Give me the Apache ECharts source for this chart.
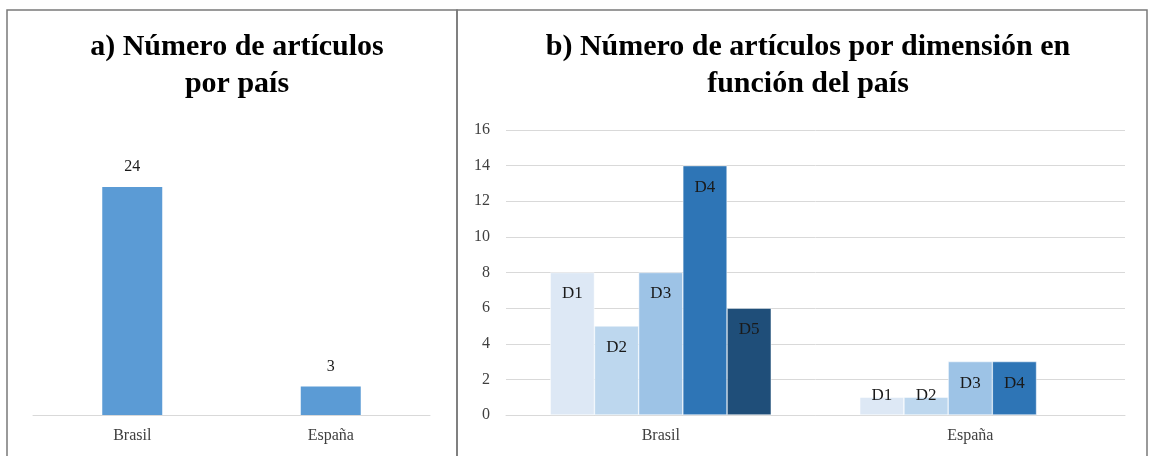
<!DOCTYPE html>
<html>
<head>
<meta charset="utf-8">
<script src="https://cdn.jsdelivr.net/npm/echarts@6/dist/echarts.min.js"></script>
<style>
  html, body { margin: 0; padding: 0; background: #fff; }
  #main { width: 1153px; height: 456px; }
</style>
</head>
<body>
<div id="main"></div>
<script>
  // a) artículos por país
  const paises = ['Brasil', 'España'];
  const articulosPais = [24, 3];

  // b) artículos por dimensión y país
  const dimensiones = ['D1', 'D2', 'D3', 'D4', 'D5'];
  const porDimension = [
    [8, 1],     // D1
    [5, 1],     // D2
    [8, 3],     // D3
    [14, 3],    // D4
    [6, null]   // D5
  ];
  const yTicksB = { min: 0, max: 16, interval: 2 };

  const colorsDim = ['#dde8f5', '#bdd7ee', '#9dc3e6', '#2e75b6', '#1f4e79'];
  const serif = '"Liberation Serif", "Times New Roman", serif';

  let myChart = echarts.init(document.getElementById('main'));

  const dimSeries = dimensiones.map((name, i) => ({
    name: name,
    type: 'bar',
    xAxisIndex: 1,
    yAxisIndex: 1,
    barGap: '0%',
    barCategoryGap: '28.6%',
    itemStyle: { color: colorsDim[i], borderColor: '#fff', borderWidth: 0.5 },
    label: {
      show: true,
      position: 'insideTop',
      distance: 13,
      formatter: '{a}',
      fontFamily: serif,
      fontSize: 17,
      color: '#1a1a1a'
    },
    // barras muy bajas: la etiqueta sobresale como en Excel
    data: porDimension[i].map(v => (v !== null && v < 2)
      ? { value: v, label: { position: 'insideBottom', distance: 11 } }
      : v)
  }));

  myChart.setOption({
    animation: false,
    title: [
      {
        text: 'a) Número de artículos\npor país',
        left: 232,
        top: 24,
        textAlign: 'center',
        textStyle: { fontFamily: serif, fontWeight: 'bold', fontSize: 30, lineHeight: 37, color: '#000' }
      },
      {
        text: 'b) Número de artículos por dimensión en\nfunción del país',
        left: 803,
        top: 24,
        textAlign: 'center',
        textStyle: { fontFamily: serif, fontWeight: 'bold', fontSize: 30, lineHeight: 37, color: '#000' }
      }
    ],
    graphic: [
      { type: 'rect', shape: { x: 7, y: 10, width: 450, height: 460 }, style: { fill: 'none', stroke: '#7a7a7a', lineWidth: 1.5 } },
      { type: 'rect', shape: { x: 457, y: 10, width: 690, height: 460 }, style: { fill: 'none', stroke: '#7a7a7a', lineWidth: 1.5 } }
    ],
    grid: [
      { left: 33, right: 723, top: 130, bottom: 41 },
      { left: 506, right: 28, top: 130, bottom: 41 }
    ],
    xAxis: [
      {
        gridIndex: 0,
        type: 'category',
        data: paises,
        axisTick: { show: false },
        axisLine: { lineStyle: { color: '#d9d9d9' } },
        axisLabel: { fontFamily: serif, fontSize: 16, color: '#404040', margin: 13 }
      },
      {
        gridIndex: 1,
        type: 'category',
        data: paises,
        axisTick: { show: false },
        axisLine: { lineStyle: { color: '#d9d9d9' } },
        axisLabel: { fontFamily: serif, fontSize: 16, color: '#404040', margin: 13 }
      }
    ],
    yAxis: [
      { gridIndex: 0, type: 'value', min: 0, max: 30, show: false },
      {
        gridIndex: 1,
        type: 'value',
        min: yTicksB.min,
        max: yTicksB.max,
        interval: yTicksB.interval,
        axisLine: { show: false },
        axisTick: { show: false },
        splitLine: { lineStyle: { color: '#d9d9d9' } },
        axisLabel: { fontFamily: serif, fontSize: 16, color: '#404040', margin: 16 }
      }
    ],
    series: [
      {
        name: 'Artículos',
        type: 'bar',
        xAxisIndex: 0,
        yAxisIndex: 0,
        barWidth: 60,
        itemStyle: { color: '#5b9bd5' },
        label: {
          show: true,
          position: 'top',
          distance: 12,
          fontFamily: serif,
          fontSize: 16,
          color: '#1a1a1a'
        },
        data: articulosPais
      },
      ...dimSeries
    ]
  });
</script>
</body>
</html>
